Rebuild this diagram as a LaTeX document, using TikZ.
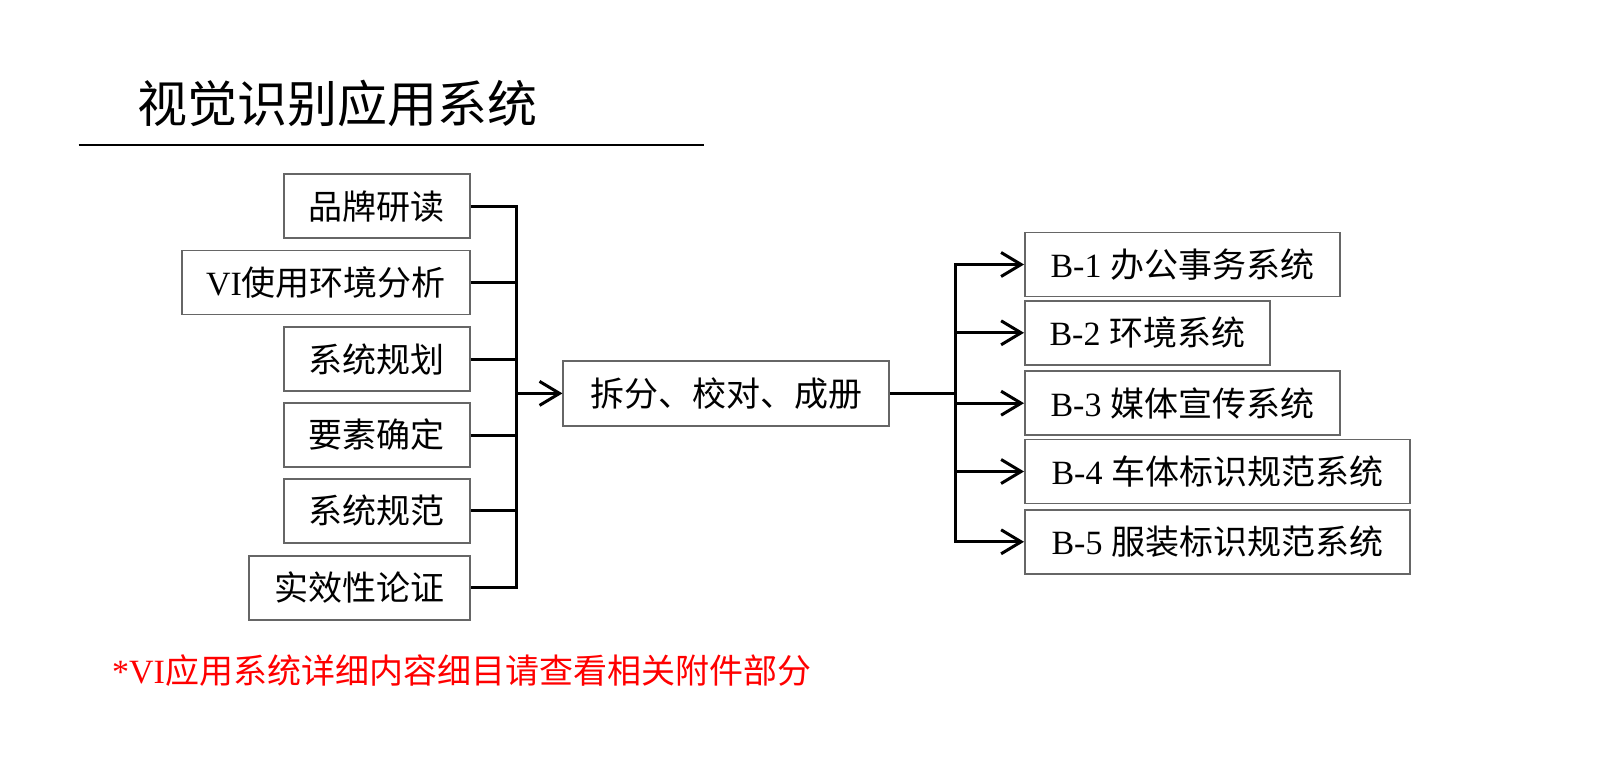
\documentclass[tikz,border=0pt]{standalone}
\usepackage{fontspec}
\setmainfont{Noto Sans CJK SC}
\newfontfamily\lat{Liberation Serif}
\usetikzlibrary{arrows.meta}
\begin{document}
\begin{tikzpicture}[x=1pt,y=-1pt,
  box/.style={draw=black!60, line width=1.5pt, fill=white, inner sep=0pt,
    minimum height=64pt, font=\fontsize{34}{40}\selectfont, text=black},
  lbox/.style={box, anchor=east},
  rbox/.style={box, anchor=west},
  conn/.style={line width=3pt, draw=black},
  arr/.style={conn, -{Straight Barb[length=20pt,width=24pt]}},
]
\useasboundingbox (0,0) rectangle (1600,767);
\fill[white] (0,0) rectangle (1600,767);

% title
\node[anchor=west, inner sep=0pt, font=\fontsize{50}{56}\selectfont] (title) at (137,103) {视觉识别应用系统};
\coordinate (ruleL) at (78.6,145);
\coordinate (ruleR) at (704,145);
\draw[line width=2pt] (ruleL) -- (ruleR);

% left boxes
\node[lbox, minimum width=186pt] (b1) at (470.7,206.2) {品牌研读};
\node[lbox, minimum width=288pt] (b2) at (470.7,282.5) {{\lat VI}使用环境分析};
\node[lbox, minimum width=186pt] (b3) at (470.7,359.2) {系统规划};
\node[lbox, minimum width=186pt] (b4) at (470.7,435) {要素确定};
\node[lbox, minimum width=186pt] (b5) at (470.7,510.8) {系统规范};
\node[lbox, minimum width=221pt] (b6) at (470.7,587.9) {实效性论证};

% middle box
\node[box, minimum width=326pt, minimum height=65pt] (mid) at (726.2,393.4) {拆分、校对、成册};

% right boxes
\node[rbox, minimum width=315pt] (r1) at (1024,264.5) {{\lat B-1 }办公事务系统};
\node[rbox, minimum width=245pt] (r2) at (1024,332.8) {{\lat B-2 }环境系统};
\node[rbox, minimum width=315pt] (r3) at (1024,403.2) {{\lat B-3 }媒体宣传系统};
\node[rbox, minimum width=385pt] (r4) at (1024,471.5) {{\lat B-4 }车体标识规范系统};
\node[rbox, minimum width=385pt] (r5) at (1024,541.8) {{\lat B-5 }服装标识规范系统};

% buses
\coordinate (lbus) at (516.7,0);
\coordinate (rbus) at (955.7,0);

\draw[conn] (b1.east) -- (b1.east -| lbus) -- (b6.east -| lbus) -- (b6.east);
\foreach \n in {b2,b3,b4,b5} \draw[conn] (\n.east) -- (\n.east -| lbus);
\draw[arr] (lbus |- mid.west) -- (mid.west);

\draw[conn] (mid.east) -- (mid.east -| rbus);
\draw[conn, line cap=rect] (rbus |- r1.west) -- (rbus |- r5.west);
\foreach \n in {r1,r2,r3,r4,r5} \draw[arr] (rbus |- \n.west) -- (\n.west);

% note
\node[anchor=west, inner sep=0pt, text=red, font=\fontsize{34}{40}\selectfont] (note) at (112,671) {{\lat *VI}应用系统详细内容细目请查看相关附件部分};
\end{tikzpicture}
\end{document}
